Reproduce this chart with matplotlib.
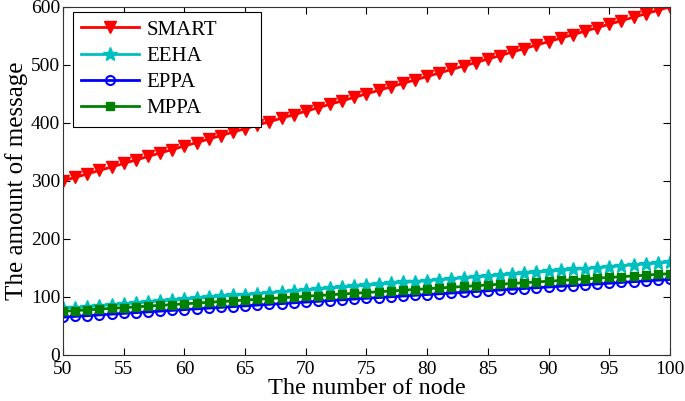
import matplotlib
matplotlib.use("Agg")
import matplotlib.pyplot as plt

plt.rcParams['font.family'] = ['Liberation Serif', 'DejaVu Serif']

nodes = list(range(50, 101))

smart = [300, 306, 312, 318, 324, 330, 336, 342, 348, 354, 360, 366, 372, 378, 384, 390, 396,
         402, 408, 414, 420, 426, 432, 438, 444, 450, 456, 462, 468, 474, 480, 486, 492, 498,
         504, 510, 516, 522, 528, 534, 540, 546, 552, 558, 564, 570, 576, 582, 588, 594, 600]
eeha = [80, 81.6, 83.2, 84.8, 86.4, 88, 89.6, 91.2, 92.8, 94.4, 96, 97.6, 99.2, 100.8, 102.4,
        104, 105.6, 107.2, 108.8, 110.4, 112, 113.6, 115.2, 116.8, 118.4, 120, 121.6, 123.2,
        124.8, 126.4, 128, 129.6, 131.2, 132.8, 134.4, 136, 137.6, 139.2, 140.8, 142.4, 144,
        145.6, 147.2, 148.8, 150.4, 152, 153.6, 155.2, 156.8, 158.4, 160]
eppa = [65, 66.3, 67.6, 68.9, 70.2, 71.5, 72.8, 74.1, 75.4, 76.7, 78, 79.3, 80.6, 81.9, 83.2,
        84.5, 85.8, 87.1, 88.4, 89.7, 91, 92.3, 93.6, 94.9, 96.2, 97.5, 98.8, 100.1, 101.4,
        102.7, 104, 105.3, 106.6, 107.9, 109.2, 110.5, 111.8, 113.1, 114.4, 115.7, 117, 118.3,
        119.6, 120.9, 122.2, 123.5, 124.8, 126.1, 127.4, 128.7, 130]
mppa = [75, 76.3, 77.6, 78.9, 80.2, 81.5, 82.8, 84.1, 85.4, 86.7, 88, 89.3, 90.6, 91.9, 93.2,
        94.5, 95.8, 97.1, 98.4, 99.7, 101, 102.3, 103.6, 104.9, 106.2, 107.5, 108.8, 110.1,
        111.4, 112.7, 114, 115.3, 116.6, 117.9, 119.2, 120.5, 121.8, 123.1, 124.4, 125.7, 127,
        128.3, 129.6, 130.9, 132.2, 133.5, 134.8, 136.1, 137.4, 138.7, 140]

fig = plt.figure(figsize=(6.85, 4.01), dpi=100)
ax = fig.add_axes([0.092, 0.115, 0.886, 0.868])

ax.plot(nodes, smart, color='red', marker='v', markersize=9, linewidth=2, label='SMART')
ax.plot(nodes, eeha, color='#00BFBF', marker='*', markersize=10, linewidth=2, label='EEHA')
ax.plot(nodes, eppa, color='blue', marker='o', markersize=6.5, markerfacecolor='none',
        markeredgewidth=1.5, linewidth=2, label='EPPA')
ax.plot(nodes, mppa, color='#008000', marker='s', markersize=5.5, linewidth=2, label='MPPA')

ax.set_xlim(50, 100)
ax.set_ylim(0, 600)
ax.set_xticks(range(50, 101, 5))
ax.set_yticks(range(0, 601, 100))
ax.tick_params(direction='in', top=True, right=True, labelsize=14, length=5)
ax.tick_params(axis='x', pad=4.5)
ax.tick_params(axis='y', pad=2)
ax.set_xlabel('The number of node', fontsize=17.5, labelpad=0)
ax.set_ylabel('The amount of message', fontsize=18, labelpad=2)
for s in ax.spines.values():
    s.set_color('#333333')

leg = ax.legend(loc='upper left', bbox_to_anchor=(0.016, 0.986, 0.31, 0.0), mode='expand',
                fontsize=15, fancybox=False, edgecolor='black', framealpha=1,
                borderaxespad=0, handlelength=2.8, handletextpad=0.35,
                labelspacing=0.32, borderpad=0.4)
leg.get_frame().set_linewidth(0.8)

fig.savefig('out.png', dpi=100)
